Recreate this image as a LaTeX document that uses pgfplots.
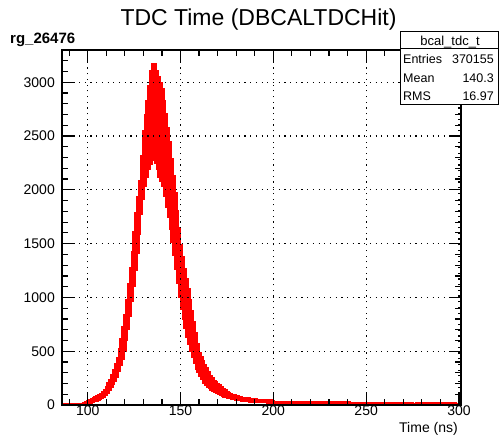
\documentclass[border=0pt]{standalone}
\usepackage{pgfplots}
\usepackage{pgfplotstable}
\pgfplotsset{compat=1.18}
\usepackage{fontspec}
\setmainfont{Liberation Sans}

% bin left edge, counts
\pgfplotstableread{
x y
86 0
87 0
88 0
89 0
90 0
91 0
92 0
93 0
94 0
95 0
96 2
96.5 2
97 5
97.5 4
98 10
98.5 7
99 18
99.5 15
100 30
100.5 22
101 38
101.5 27
102 45
102.5 33
103 55
103.5 40
104 65
104.5 48
105 75
105.5 56
106 85
106.5 64
107 97
107.5 72
108 110
108.5 82
109 135
109.5 100
110 165
110.5 122
111 195
111.5 148
112 225
112.5 175
113 270
113.5 202
114 320
114.5 232
115 375
115.5 270
116 430
116.5 320
117 510
117.5 375
118 610
118.5 430
119 720
119.5 510
120 830
120.5 610
121 970
121.5 710
122 1120
122.5 830
123 1270
123.5 970
124 1420
124.5 1110
125 1600
125.5 1260
126 1780
126.5 1420
127 1930
127.5 1600
128 2080
128.5 1780
129 2310
129.5 1920
130 2540
130.5 2040
131 2690
131.5 2130
132 2820
132.5 2200
133 2960
133.5 2250
134 3100
134.5 2280
135 3166
135.5 2290
136 3166
136.5 2260
137 3100
137.5 2200
138 3040
138.5 2130
139 2990
139.5 2090
140 2930
140.5 2040
141 2820
141.5 1950
142 2700
142.5 1850
143 2570
143.5 1750
144 2440
144.5 1640
145 2280
145.5 1520
146 2120
146.5 1400
147 1960
147.5 1270
148 1800
148.5 1140
149 1640
149.5 1010
150 1480
150.5 900
151 1370
151.5 810
152 1260
152.5 720
153 1165
153.5 640
154 1070
154.5 570
155 970
155.5 510
156 870
156.5 455
157 765
157.5 400
158 660
158.5 345
159 560
159.5 310
160 480
160.5 275
161 440
161.5 245
162 400
162.5 215
163 365
163.5 195
164 335
164.5 178
165 300
165.5 162
166 265
166.5 150
167 240
167.5 138
168 220
168.5 126
169 205
169.5 116
170 190
170.5 106
171 175
171.5 99
172 160
172.5 92
173 145
173.5 84
174 130
174.5 77
175 118
175.5 72
176 108
176.5 67
177 98
177.5 62
178 90
178.5 58
179 84
179.5 54
180 78
181 49
182 70
183 45
184 62
185 42
186 56
187 39
188 51
189 36
190 47
191 34
192 44
193 32
194 41
195 30
196 38
197 29
198 36
199 28
200 26
201 20
202 25
203 19
204 24
205 18
206 24
207 18
208 23
209 17
210 23
211 17
212 22
213 16
214 22
215 16
216 21
217 16
218 21
219 15
220 20
221 15
222 20
223 15
224 19
225 14
226 19
227 14
228 19
229 14
230 18
231 14
232 18
233 13
234 18
235 13
236 17
237 13
238 17
239 13
240 17
241 12
242 16
243 12
244 16
245 12
246 16
247 12
248 15
249 11
250 15
251 11
252 15
253 11
254 14
255 11
256 14
257 10
258 14
259 10
260 14
261 10
262 0
263 0
264 13
265 10
266 13
267 10
268 13
269 9
270 0
271 12
272 13
273 9
274 12
275 0
276 0
277 12
278 9
279 12
280 9
281 12
282 9
283 0
284 0
285 11
286 9
287 11
288 8
289 11
290 8
291 0
292 0
293 11
294 8
295 11
296 8
297 10
298 0
299 0
300 0
301 0
}\histdata

\begin{document}
\begin{tikzpicture}
\useasboundingbox (-62pt,-31pt) rectangle (439pt,405pt);
\begin{axis}[
  scale only axis,
  width=399pt, height=355pt,
  xmin=86.15, xmax=301.1,
  ymin=0, ymax=3300,
  xtick={100,150,...,300},
  ytick={0,500,...,3000},
  minor xtick={90,100,...,300},
  minor ytick={0,100,...,3300},
  major tick length=12pt,
  minor tick length=6pt,
  tick style={black, line width=1.2pt},
  axis line style={black, line width=1.5pt},
  grid=major,
  major grid style={black, line width=1.2pt, dash pattern=on 1.2pt off 4.5pt},
  axis on top,
  tick label style={font=\fontsize{14}{14}\selectfont, black},
  /pgf/number format/assume math mode=true,
  /pgf/number format/set thousands separator={},
  xticklabel style={inner sep=1pt},
  yticklabel style={inner sep=0pt, xshift=-7pt},
]
\addplot[const plot mark left, red, line width=3.4pt, line join=miter] table[x=x, y=y] {\histdata};
\end{axis}
\node[font=\fontsize{23}{23}\selectfont, inner sep=0pt] at (196.5pt,385pt) {TDC Time (DBCALTDCHit)};
\node[font=\bfseries\fontsize{15}{15}\selectfont, anchor=base west, inner sep=0pt] at (-52pt,361pt) {rg\_26476};
\node[font=\fontsize{14}{14}\selectfont, anchor=base east, inner sep=0pt] at (396pt,-28pt) {Time (ns)};
% statistics box
\draw[fill=white, line width=1pt] (338pt,300pt) rectangle (436pt,373pt);
\draw[line width=1pt] (338pt,356.3pt) -- (436pt,356.3pt);
\node[font=\fontsize{13}{13}\selectfont, anchor=base, inner sep=0pt] at (388pt,359.5pt) {bcal\_tdc\_t};
\node[font=\fontsize{12.5}{12.5}\selectfont, anchor=base west, inner sep=0pt] at (341pt,341pt) {Entries};
\node[font=\fontsize{12.5}{12.5}\selectfont, anchor=base east, inner sep=0pt] at (432pt,341pt) {370155};
\node[font=\fontsize{12.5}{12.5}\selectfont, anchor=base west, inner sep=0pt] at (341pt,322.5pt) {Mean};
\node[font=\fontsize{12.5}{12.5}\selectfont, anchor=base east, inner sep=0pt] at (432pt,322.5pt) {140.3};
\node[font=\fontsize{12.5}{12.5}\selectfont, anchor=base west, inner sep=0pt] at (341pt,304.5pt) {RMS};
\node[font=\fontsize{12.5}{12.5}\selectfont, anchor=base east, inner sep=0pt] at (432pt,304.5pt) {16.97};
\end{tikzpicture}
\end{document}
